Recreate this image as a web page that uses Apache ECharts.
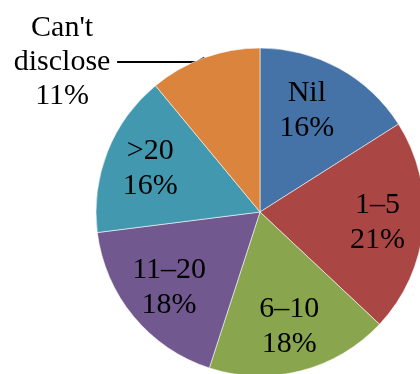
<!DOCTYPE html>
<html>
<head>
<meta charset="utf-8">
<script src="https://cdn.jsdelivr.net/npm/echarts@6/dist/echarts.min.js"></script>
<style>
  html, body { margin: 0; padding: 0; background: #fff; }
  #chart { width: 420px; height: 374px; }
</style>
</head>
<body>
<div id="chart"></div>
<script>
// Share of respondents by group (percent)
const categories = ['Nil', '1–5', '6–10', '11–20', '>20', "Can't disclose"];
const shares = [16, 21, 18, 18, 16, 11];
const colors = ['#4572A7', '#AA4643', '#89A54E', '#71588F', '#4198AF', '#DB843D'];
const outsideLabels = ["Can't disclose"];

const fontFamily = '"Liberation Serif", "Times New Roman", serif';
const labelFont = {
  fontFamily: fontFamily,
  fontSize: 30,
  lineHeight: 35,
  color: '#000'
};

const center = [260, 212];
const radius = 164;

const chart = echarts.init(document.getElementById('chart'));

const sliceData = categories.map((name, i) => {
  const outside = outsideLabels.includes(name);
  return {
    name: name,
    value: shares[i],
    itemStyle: { color: colors[i] },
    label: outside ? {
      show: true,
      position: 'outside',
      formatter: p => '{t|' + p.name.replace(' ', '\n') + '\n' + p.value + '%}',
      rich: {
        t: {
          fontFamily: fontFamily,
          fontSize: 30,
          lineHeight: 34,
          width: 110,
          align: 'center',
          color: '#000'
        }
      },
      distanceToLabelLine: 6
    } : { show: false },
    labelLine: outside ? {
      show: true,
      length: 4,
      length2: 80,
      lineStyle: { color: '#000', width: 2 }
    } : { show: false }
  };
});

// label-only ring so the inside labels sit further out along each slice
const labelData = categories.map((name, i) => {
  const outside = outsideLabels.includes(name);
  const item = {
    name: name,
    value: shares[i],
    label: { show: !outside }
  };
  if (i === 0) item.label.offset = [-10, 2];
  return item;
});

chart.setOption({
  animation: false,
  series: [
    {
      type: 'pie',
      center: center,
      radius: [0, radius],
      startAngle: 90,
      clockwise: true,
      silent: true,
      data: sliceData,
      itemStyle: { borderColor: 'rgba(255,255,255,0.7)', borderWidth: 0.8 },
      label: labelFont,
      avoidLabelOverlap: false,
      // nudge the outside label a little lower; the leader line follows it
      labelLayout: p => {
        if (!outsideLabels.includes(categories[p.dataIndex])) return {};
        const r = p.labelRect;
        return {
          x: r.x + r.width,
          y: r.y + r.height / 2 + 8,
          align: 'right',
          verticalAlign: 'middle'
        };
      }
    },
    {
      type: 'pie',
      center: center,
      radius: [66, radius],
      startAngle: 90,
      clockwise: true,
      silent: true,
      data: labelData,
      itemStyle: { color: 'rgba(0,0,0,0)' },
      label: Object.assign({
        position: 'inside',
        formatter: p => p.name + '\n' + p.value + '%'
      }, labelFont),
      labelLine: { show: false }
    }
  ]
});
</script>
</body>
</html>
